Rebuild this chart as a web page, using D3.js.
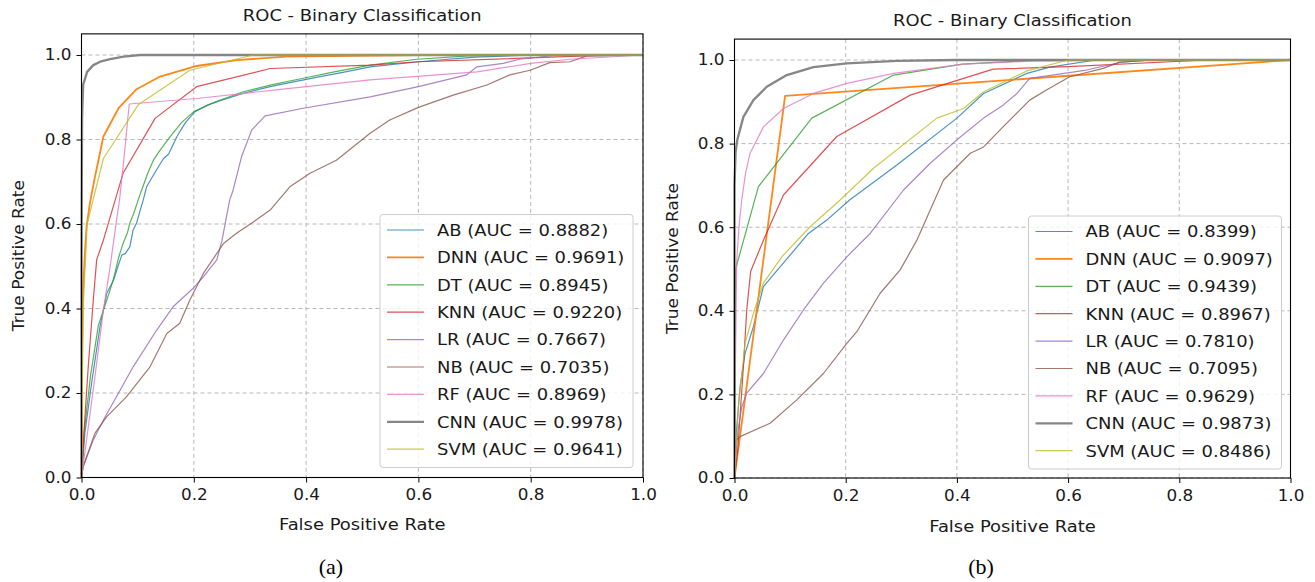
<!DOCTYPE html>
<html>
<head>
<meta charset="utf-8">
<script src="https://cdn.jsdelivr.net/npm/d3@7"></script>
<style>
  body { margin: 0; background: #fff; }
  text { font-family: 'DejaVu Sans', sans-serif; fill: #1a1a1a; }
</style>
</head>
<body>
<svg id="chart" width="1315" height="582"></svg>
<script>
// models in legend / drawing order
const models = ['AB', 'DNN', 'DT', 'KNN', 'LR', 'NB', 'RF', 'CNN', 'SVM']
const colors = ['#1f77b4', '#ff7f0e', '#2ca02c', '#d62728', '#9467bd', '#8c564b', '#e377c2', '#7f7f7f', '#bcbd22']
const aucA = [0.8882, 0.9691, 0.8945, 0.9220, 0.7667, 0.7035, 0.8969, 0.9978, 0.9641]
const aucB = [0.8399, 0.9097, 0.9439, 0.8967, 0.7810, 0.7095, 0.9629, 0.9873, 0.8486]
const ticks = [0, 0.2, 0.4, 0.6, 0.8, 1.0]
const captions = ['(a)', '(b)']
const title = 'ROC - Binary Classification'

// (a) ROC points, [fpr, tpr]
const a_AB = [[0,0],[0.006,0.105],[0.018,0.223],[0.033,0.357],[0.045,0.436],[0.057,0.467],[0.065,0.5],[0.072,0.527],[0.078,0.53],[0.086,0.546],[0.092,0.586],[0.098,0.602],[0.104,0.63],[0.11,0.657],[0.116,0.688],[0.13,0.72],[0.146,0.755],[0.155,0.765],[0.17,0.807],[0.185,0.84],[0.202,0.866],[0.225,0.882],[0.247,0.892],[0.29,0.91],[0.336,0.925],[0.38,0.937],[0.425,0.949],[0.47,0.96],[0.514,0.972],[0.6,0.984],[0.7,0.995],[0.8,1],[1,1]]
const a_DNN = [[0,0],[0.001,0.3],[0.003,0.45],[0.006,0.53],[0.009,0.594],[0.015,0.65],[0.024,0.712],[0.039,0.807],[0.066,0.874],[0.098,0.919],[0.14,0.949],[0.205,0.974],[0.276,0.988],[0.365,0.996],[0.6,1],[1,1]]
const a_DT = [[0,0],[0.005,0.11],[0.016,0.24],[0.03,0.36],[0.039,0.396],[0.05,0.44],[0.057,0.47],[0.066,0.52],[0.074,0.554],[0.082,0.58],[0.086,0.602],[0.093,0.625],[0.101,0.657],[0.107,0.68],[0.118,0.72],[0.128,0.751],[0.14,0.775],[0.158,0.807],[0.178,0.84],[0.2,0.866],[0.24,0.89],[0.288,0.913],[0.34,0.93],[0.395,0.945],[0.45,0.96],[0.514,0.976],[0.597,0.99],[0.69,0.998],[0.8,1],[1,1]]
const a_KNN = [[0,0],[0.004,0.1],[0.012,0.262],[0.021,0.42],[0.027,0.515],[0.039,0.562],[0.06,0.657],[0.074,0.72],[0.131,0.85],[0.205,0.925],[0.336,0.968],[0.514,0.976],[0.6,0.984],[0.9,0.998],[1,1]]
const a_LR = [[0,0],[0.003,0.026],[0.021,0.089],[0.039,0.136],[0.069,0.207],[0.092,0.262],[0.134,0.349],[0.163,0.404],[0.199,0.448],[0.217,0.475],[0.241,0.515],[0.25,0.56],[0.264,0.657],[0.27,0.68],[0.285,0.759],[0.303,0.822],[0.327,0.856],[0.395,0.874],[0.514,0.901],[0.6,0.925],[0.686,0.953],[0.704,0.972],[0.751,0.98],[0.78,0.99],[0.85,1],[1,1]]
const a_NB = [[0,0],[0.003,0.026],[0.024,0.105],[0.045,0.144],[0.08,0.191],[0.122,0.262],[0.152,0.341],[0.175,0.365],[0.193,0.42],[0.217,0.483],[0.253,0.554],[0.276,0.578],[0.306,0.605],[0.336,0.633],[0.371,0.688],[0.407,0.72],[0.454,0.751],[0.514,0.815],[0.549,0.846],[0.6,0.876],[0.662,0.905],[0.722,0.929],[0.763,0.953],[0.799,0.964],[0.834,0.982],[0.87,0.984],[0.9,0.998],[1,1]]
const a_RF = [[0,0],[0.009,0.089],[0.024,0.239],[0.039,0.396],[0.051,0.499],[0.06,0.586],[0.068,0.66],[0.076,0.76],[0.085,0.884],[0.205,0.897],[0.35,0.918],[0.514,0.941],[0.704,0.96],[0.8,0.98],[0.87,0.99],[1,1]]
const a_CNN = [[0,0],[0,0.5],[0.001,0.85],[0.003,0.93],[0.01,0.96],[0.021,0.976],[0.035,0.985],[0.051,0.99],[0.075,0.996],[0.104,1],[1,1]]
const a_SVM = [[0,0],[0.003,0.4],[0.01,0.6],[0.039,0.755],[0.101,0.882],[0.193,0.964],[0.306,1],[1,1]]

// (b) ROC points, [fpr, tpr]
const b_AB = [[0,0],[0.004,0.12],[0.01,0.218],[0.019,0.298],[0.034,0.362],[0.052,0.458],[0.082,0.505],[0.133,0.585],[0.166,0.617],[0.207,0.665],[0.292,0.749],[0.4,0.861],[0.448,0.92],[0.526,0.968],[0.567,0.983],[0.65,1],[1,1]]
const b_DNN = [[0,0],[0.091,0.914],[1,1]]
const b_DT = [[0,0],[0.002,0.5],[0.043,0.697],[0.139,0.861],[0.286,0.964],[0.41,0.99],[0.55,1],[1,1]]
const b_KNN = [[0,0],[0.006,0.07],[0.016,0.266],[0.022,0.402],[0.029,0.494],[0.052,0.569],[0.088,0.677],[0.184,0.817],[0.316,0.916],[0.465,0.978],[0.6,0.984],[0.85,1],[1,1]]
const b_LR = [[0,0],[0.006,0.11],[0.013,0.17],[0.022,0.203],[0.052,0.25],[0.088,0.33],[0.124,0.402],[0.16,0.466],[0.202,0.529],[0.244,0.585],[0.304,0.689],[0.352,0.753],[0.4,0.809],[0.448,0.861],[0.483,0.892],[0.508,0.92],[0.531,0.956],[0.633,0.976],[0.693,0.994],[0.75,1],[1,1]]
const b_NB = [[0,0],[0.003,0.09],[0.01,0.099],[0.064,0.131],[0.112,0.187],[0.16,0.25],[0.202,0.322],[0.22,0.35],[0.262,0.442],[0.298,0.498],[0.328,0.569],[0.352,0.641],[0.376,0.713],[0.424,0.777],[0.448,0.792],[0.483,0.84],[0.531,0.904],[0.561,0.928],[0.603,0.96],[0.663,0.98],[0.693,0.995],[0.75,1],[1,1]]
const b_RF = [[0,0],[0.001,0.2],[0.004,0.52],[0.008,0.6],[0.013,0.665],[0.02,0.73],[0.028,0.777],[0.052,0.84],[0.088,0.884],[0.142,0.92],[0.202,0.944],[0.286,0.968],[0.412,0.99],[0.53,0.997],[0.7,1],[1,1]]
const b_CNN = [[0,0],[0,0.7],[0.002,0.78],[0.005,0.809],[0.016,0.864],[0.034,0.904],[0.058,0.936],[0.094,0.964],[0.142,0.983],[0.202,0.992],[0.292,0.998],[0.4,1],[1,1]]
const b_SVM = [[0,0],[0.007,0.171],[0.019,0.322],[0.034,0.394],[0.052,0.466],[0.085,0.529],[0.136,0.601],[0.19,0.665],[0.25,0.741],[0.364,0.861],[0.412,0.884],[0.448,0.924],[0.526,0.974],[0.6,1],[1,1]]

const curvesA = [a_AB, a_DNN, a_DT, a_KNN, a_LR, a_NB, a_RF, a_CNN, a_SVM]
const curvesB = [b_AB, b_DNN, b_DT, b_KNN, b_LR, b_NB, b_RF, b_CNN, b_SVM]

// layout of each panel (pixels)
let panels = [
  {curves: curvesA, auc: aucA, left: 81.5, right: 643, bottom: 477.5, one: 55, titleY: 21, xLabY: 530, yLabX: 24, capX: 331, legPad: 10},
  {curves: curvesB, auc: aucB, left: 734.5, right: 1290.5, bottom: 478, one: 60, titleY: 26, xLabY: 532, yLabX: 678, capX: 981, legPad: 9}
]

let svg = d3.select('#chart')

function widthOf(name) { return name == 'CNN' ? 2.3 : name == 'DNN' ? 1.8 : 1.2 }
function alphaOf(name) { return (name == 'CNN' || name == 'DNN') ? 0.95 : 0.8 }

panels.forEach(function (p, pi) {
  let x = d3.scaleLinear().domain([0, 1]).range([p.left, p.right])
  let y = d3.scaleLinear().domain([0, 1]).range([p.bottom, p.one])
  let top = y(1.05)
  let midX = (p.left + p.right) / 2

  let g = svg.append('g')

  // grid
  g.append('g').selectAll('line')
      .data(ticks).enter().append('line')
      .attr('x1', d => x(d)).attr('x2', d => x(d))
      .attr('y1', top).attr('y2', p.bottom)
      .attr('stroke', '#b0b0b0').attr('stroke-width', 0.9).attr('stroke-dasharray', '4,3')
  g.append('g').selectAll('line')
      .data(ticks).enter().append('line')
      .attr('y1', d => y(d)).attr('y2', d => y(d))
      .attr('x1', p.left).attr('x2', p.right)
      .attr('stroke', '#b0b0b0').attr('stroke-width', 0.9).attr('stroke-dasharray', '4,3')

  // curves
  let line = d3.line().x(d => x(d[0])).y(d => y(d[1]))
  g.append('g').selectAll('path')
      .data(p.curves).enter().append('path')
      .attr('d', line)
      .attr('fill', 'none')
      .attr('stroke', (d, i) => colors[i])
      .attr('stroke-opacity', (d, i) => alphaOf(models[i]))
      .attr('stroke-width', (d, i) => widthOf(models[i]))
      .attr('stroke-linejoin', 'round')

  // axes
  let xAxis = g.append('g').attr('transform', `translate(0,${p.bottom})`)
      .call(d3.axisBottom(x).tickValues(ticks).tickFormat(d3.format('.1f')).tickSize(5).tickPadding(7))
  let yAxis = g.append('g').attr('transform', `translate(${p.left},0)`)
      .call(d3.axisLeft(y).tickValues(ticks).tickFormat(d3.format('.1f')).tickSize(5).tickPadding(5))
  ;[xAxis, yAxis].forEach(function (a) {
    a.select('.domain').remove()
    a.selectAll('line').attr('stroke', '#000').attr('stroke-width', 1)
    a.selectAll('text').attr('font-size', 15).attr('font-family', null).attr('fill', null).attr('class', 'stretch')
  })

  g.append('rect')
      .attr('x', p.left).attr('y', top)
      .attr('width', p.right - p.left).attr('height', p.bottom - top)
      .attr('fill', 'none').attr('stroke', '#000').attr('stroke-width', 1.1)

  // titles and labels
  g.append('text').attr('class', 'stretch')
      .attr('x', midX).attr('y', p.titleY)
      .attr('text-anchor', 'middle').attr('font-size', 16)
      .text(title)
  g.append('text').attr('class', 'stretch')
      .attr('x', midX).attr('y', p.xLabY)
      .attr('text-anchor', 'middle').attr('font-size', 16)
      .text('False Positive Rate')
  g.append('text').attr('class', 'stretchv')
      .attr('transform', `translate(${p.yLabX},${(top + p.bottom) / 2}) rotate(-90)`)
      .attr('text-anchor', 'middle').attr('font-size', 16)
      .text('True Positive Rate')
  g.append('text')
      .attr('x', p.capX).attr('y', 574)
      .attr('text-anchor', 'middle').attr('font-size', 22)
      .style('font-family', "'Liberation Serif', serif")
      .style('fill', '#000')
      .text(captions[pi])

  // legend
  let lw = 253, lh = 253
  let lx = p.right - p.legPad - lw, ly = p.bottom - p.legPad - lh
  let legend = g.append('g').attr('transform', `translate(${lx},${ly})`)
  legend.append('rect')
      .attr('width', lw).attr('height', lh).attr('rx', 3)
      .attr('fill', '#fff').attr('fill-opacity', 0.8)
      .attr('stroke', '#cccccc').attr('stroke-width', 1)
  let row = legend.selectAll('g.row')
      .data(models).enter().append('g')
      .attr('transform', (d, i) => `translate(0,${15.5 + i * 27.4})`)
  row.append('line')
      .attr('x1', 7).attr('x2', 44)
      .attr('stroke', (d, i) => colors[i])
      .attr('stroke-opacity', d => alphaOf(d))
      .attr('stroke-width', d => widthOf(d))
  row.append('text').attr('class', 'stretch')
      .attr('x', 57).attr('y', 5.8)
      .attr('font-size', 16)
      .text((d, i) => `${d} (AUC = ${p.auc[i].toFixed(4)})`)
})

// the reference picture is a bit wider than tall, so widen the lettering
svg.selectAll('text.stretch').each(function () {
  let w = this.getComputedTextLength()
  d3.select(this).attr('textLength', w * 1.12).attr('lengthAdjust', 'spacingAndGlyphs')
})
svg.selectAll('text.stretchv').each(function () {
  let w = this.getComputedTextLength()
  d3.select(this).attr('textLength', w * 1.06).attr('lengthAdjust', 'spacingAndGlyphs')
})
</script>
</body>
</html>
